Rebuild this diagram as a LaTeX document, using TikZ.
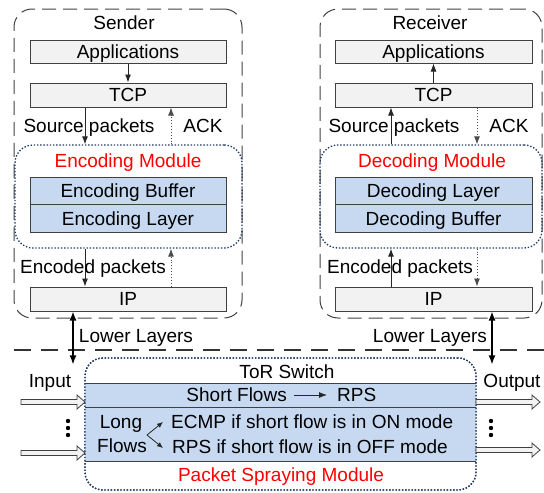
\documentclass[tikz,border=0pt]{standalone}
\usepackage{fontspec}
\setmainfont{Liberation Sans}
\usetikzlibrary{arrows.meta,calc}
\definecolor{boxgray}{HTML}{F2F2F2}
\definecolor{edgegray}{HTML}{404040}
\definecolor{lblue}{HTML}{C6D9F1}
\definecolor{navy}{HTML}{1F3864}
\tikzset{
  every node/.style={font=\fontsize{19}{22}\selectfont, inner sep=0pt, text height=13.6pt, text depth=0pt},
  hostbox/.style={draw=edgegray, line width=1pt, rounded corners=18pt, dash pattern=on 14pt off 7pt},
  modbox/.style={draw=navy, line width=1.3pt, rounded corners=18pt, dash pattern=on 1.4pt off 1.8pt},
  graybox/.style={draw=edgegray, line width=1pt, fill=boxgray, minimum width=196pt, minimum height=23pt},
  bluebox/.style={draw=edgegray, line width=1pt, fill=lblue, minimum width=196pt, minimum height=27.5pt},
  band/.style={fill=lblue, minimum width=391pt},
  arr/.style={draw=black!85, line width=0.9pt, -{Latex[length=8pt,width=6pt]}},
  darr/.style={draw=black!70, line width=0.9pt, dotted, -{Latex[length=8pt,width=6pt]}},
  llarr/.style={draw=black, line width=1.3pt, {Latex[length=9pt,width=7pt]}-{Latex[length=9pt,width=7pt]}},
  hollow/.style={draw=edgegray, line width=0.8pt, fill=boxgray},
  redlbl/.style={text=red},
}
\begin{document}
\begin{tikzpicture}[x=1pt,y=-1pt]
\useasboundingbox (0,0) rectangle (544,493);
% Host boxes
\node[hostbox, minimum width=228pt, minimum height=309pt] (sender) at (128,163.5) {};
\node[hostbox, minimum width=222pt, minimum height=309pt] (receiver) at (431,163.5) {};
\node (senderlbl) at (124,23) {Sender};
\node (receiverlbl) at (430,23) {Receiver};
% Sender stack
\node[graybox] (appS) at (128,51.5) {Applications};
\node[graybox, minimum height=24pt] (tcpS) at (128,95) {TCP};
\node[modbox, minimum width=227pt, minimum height=103pt] (encM) at (128.5,196.5) {};
\node[redlbl] (encMl) at (128,161) {Encoding Module};
\node[bluebox, minimum height=28pt] (encB) at (128,191) {Encoding Buffer};
\node[bluebox] (encL) at (128,218.5) {Encoding Layer};
\node[graybox, minimum height=24pt] (ipS) at (128,299) {IP};
% Receiver stack
\node[graybox, minimum width=197pt] (appR) at (433.5,51.5) {Applications};
\node[graybox, minimum width=197pt, minimum height=24pt] (tcpR) at (433.5,95) {TCP};
\node[modbox, minimum width=222pt, minimum height=103pt] (decM) at (431,196.5) {};
\node[redlbl] (decMl) at (432,161) {Decoding Module};
\node[bluebox, minimum width=197pt, minimum height=28pt] (decL) at (433.5,191) {Decoding Layer};
\node[bluebox, minimum width=197pt] (decB) at (433.5,218.5) {Decoding Buffer};
\node[graybox, minimum width=197pt, minimum height=24pt] (ipR) at (433.5,299) {IP};
% Sender arrows
\draw[arr] (appS.south) -- (tcpS.north);
\draw[arr] ([xshift=-43pt]tcpS.south) -- ([xshift=-43pt]tcpS.south |- encM.north);
\draw[darr] ([xshift=43pt]tcpS.south |- encM.north) -- ([xshift=43pt]tcpS.south);
\draw[arr] ([xshift=-43pt]tcpS.south |- encM.south) -- ([xshift=-43pt]ipS.north);
\draw[darr] ([xshift=43pt]ipS.north) -- ([xshift=43pt]ipS.north |- encM.south);
\node (srcS) at (89,126) {Source packets};
\node (ackS) at (203,126) {ACK};
\node (encpS) at (93,267) {Encoded packets};
% Receiver arrows
\draw[arr] (tcpR.north) -- (appR.south);
\draw[arr] ([xshift=-42.5pt]tcpR.south |- decM.north) -- ([xshift=-42.5pt]tcpR.south);
\draw[darr] ([xshift=43.5pt]tcpR.south) -- ([xshift=43.5pt]tcpR.south |- decM.north);
\draw[arr] ([xshift=-42.5pt]ipR.north) -- ([xshift=-42.5pt]ipR.north |- decM.south);
\draw[darr] ([xshift=43.5pt]ipR.north |- decM.south) -- ([xshift=43.5pt]ipR.north);
\node (srcR) at (394,126) {Source packets};
\node (ackR) at (509,126) {ACK};
\node (encpR) at (400,267) {Encoded packets};
% Divider
\coordinate (divL) at (14,350);
\coordinate (divR) at (544,350);
\draw[draw=black!80, line width=1.5pt, dash pattern=on 17pt off 10pt] (divL) -- (divR);
% ToR switch
\node[modbox, minimum width=391pt, minimum height=132pt] (tor) at (280.5,424) {};
\node[band, minimum height=23pt] (short) at (280.5,395.5) {};
\node[band, minimum height=54pt] (long) at (280.5,434) {};
\draw[edgegray, line width=1pt] (short.north west) -- (short.north east);
\draw[edgegray, line width=1pt] (short.south west) -- (short.south east);
\draw[edgegray, line width=1pt] (long.south west) -- (long.south east);
\node[modbox, minimum width=391pt, minimum height=132pt, fill=none] at (tor) {};
\node (torlbl) at (287,372) {ToR Switch};
\node[redlbl] (psm) at (281,475) {Packet Spraying Module};
\node[anchor=east] (sflow) at (287,395) {Short Flows};
\node[anchor=west] (rps) at (337,395) {RPS};
\draw[arr, -{Latex[length=8pt,width=6pt]}] ([xshift=7pt]sflow.east) -- ([xshift=-10pt]rps.west);
\node (lflow1) at (121,422) {Long};
\node (lflow2) at (122,446) {Flows};
\node[anchor=west] (ecmp) at (171,422) {ECMP if short flow is in ON mode};
\node[anchor=west] (rpsoff) at (172,447) {RPS if short flow is in OFF mode};
\coordinate (fork) at (147,435);
\draw[arr, line width=0.8pt, -{Latex[length=6pt,width=5pt]}] (fork) -- (163,422);
\draw[arr, line width=0.8pt, -{Latex[length=6pt,width=5pt]}] (fork) -- (163,448);
% Lower layers
\draw[llarr] ([xshift=-55pt]ipS.south) -- ([xshift=-55pt,yshift=-7pt]ipS.south |- tor.north);
\draw[llarr] ([xshift=58.5pt]ipR.south) -- ([xshift=58.5pt,yshift=-7pt]ipR.south |- tor.north);
\node (llS) at (136,336) {Lower Layers};
\node (llR) at (430,336) {Lower Layers};
% Input / output
\node (inlbl) at (50,381) {Input};
\node (outlbl) at (512,381) {Output};
\coordinate (in1) at (21,402);
\coordinate (in2) at (21,453);
\coordinate (out1) at (476,402);
\coordinate (out2) at (476,450);
\foreach \c in {in1,in2,out1,out2}{
  \draw[hollow] (\c) ++(0,-2.5) -- ++(56,0) -- ++(0,-4.5) -- ++(8,7) -- ++(-8,7) -- ++(0,-4.5) -- ++(-56,0) -- cycle;
}
\foreach \x in {68,491}{
  \foreach \y in {421,428,435}{
    \fill (\x,\y) circle (2.2);
  }
}
\end{tikzpicture}
\end{document}
